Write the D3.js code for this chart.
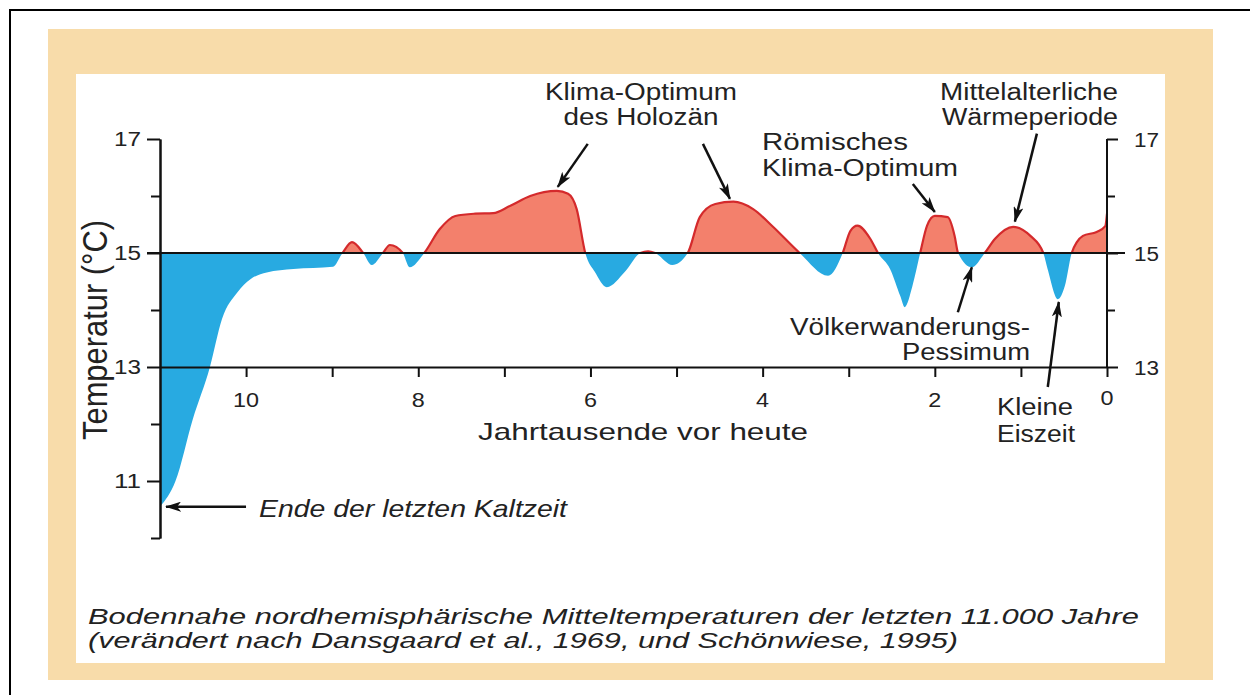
<!DOCTYPE html>
<html>
<head>
<meta charset="utf-8">
<script src="https://cdn.jsdelivr.net/npm/d3@7"></script>
<style>
  body { margin: 0; background: #fff; }
  text { font-family: "Liberation Sans", Arial, sans-serif; fill: #222; }
</style>
</head>
<body>
<svg id="chart" width="1250" height="695"></svg>
<script>
// Jahrtausende vor heute (kyr BP)
var ages = [11.0, 10.82, 10.62, 10.42, 10.28, 10.10, 9.95, 9.76, 9.45, 8.99, 8.88,
            8.77, 8.64, 8.54, 8.41, 8.33, 8.18, 8.10, 7.93, 7.75, 7.57,
            7.34, 7.13, 6.93, 6.70, 6.39, 6.26, 6.16, 6.06, 5.95, 5.81,
            5.60, 5.42, 5.33, 5.25, 5.05, 4.87, 4.73, 4.55, 4.34, 4.11,
            3.88, 3.57, 3.24, 3.07, 2.98, 2.90, 2.75, 2.66, 2.52, 2.40,
            2.35, 2.26, 2.17, 2.09, 2.00, 1.85, 1.77, 1.73, 1.57, 1.42,
            1.30, 1.09, 0.89, 0.74, 0.69, 0.57, 0.49, 0.41, 0.35, 0.28,
            0.12, 0.02, 0.0];
// Temperatur (°C)
var temps = [10.55, 11.0, 12.08, 13.0, 13.84, 14.31, 14.54, 14.66, 14.72, 14.76, 15.0,
             15.19, 15.0, 14.79, 15.0, 15.14, 15.0, 14.75, 15.0, 15.42, 15.65,
             15.69, 15.70, 15.83, 16.0, 16.09, 16.04, 15.77, 15.0, 14.67, 14.40,
             14.67, 15.0, 15.03, 15.0, 14.79, 15.0, 15.63, 15.86, 15.9, 15.77,
             15.46, 15.0, 14.6, 15.0, 15.39, 15.48, 15.25, 15.0, 14.72, 14.24,
             14.05, 14.42, 15.0, 15.48, 15.65, 15.63, 15.30, 15.0, 14.75, 15.0,
             15.25, 15.46, 15.30, 15.0, 14.72, 14.19, 14.42, 15.0, 15.19, 15.30,
             15.37, 15.47, 15.69];
var baseTemp = 15;
var yMajor = [17, 15, 13, 11];
var yMinor = [16, 14, 12, 10];
var yRight = [17, 15, 13];
var xTicks = [10, 9, 8, 7, 6, 5, 4, 3, 2, 1, 0];
var xLabels = [10, 8, 6, 4, 2, 0];

var blue = "#28aae1", salmon = "#f3806c", red = "#d42a2c", beige = "#f8dcaa";

var svg = d3.select("#chart");

// frame: page border, beige mat, white panel
svg.append("rect").attr("x", 10).attr("y", 10).attr("width", 1260).attr("height", 700)
  .attr("fill", "#fff").attr("stroke", "#000").attr("stroke-width", 2);
svg.append("rect").attr("x", 48).attr("y", 29).attr("width", 1165).attr("height", 651).attr("fill", beige);
svg.append("rect").attr("x", 76).attr("y", 74).attr("width", 1089).attr("height", 589).attr("fill", "#fff");

var x = d3.scaleLinear().domain([11, 0]).range([160, 1107]);
var y = d3.scaleLinear().domain([10, 17]).range([538, 139]);

var pts = ages.map(function (a, i) { return { age: a, temp: temps[i] }; });

var defs = svg.append("defs");
defs.append("clipPath").attr("id", "warm").append("rect")
  .attr("x", 0).attr("y", 0).attr("width", 1250).attr("height", y(baseTemp));
defs.append("clipPath").attr("id", "cold").append("rect")
  .attr("x", 0).attr("y", y(baseTemp)).attr("width", 1250).attr("height", 695);
defs.append("marker").attr("id", "head").attr("viewBox", "0 0 16 10")
  .attr("refX", 15).attr("refY", 5).attr("markerWidth", 16).attr("markerHeight", 10)
  .attr("markerUnits", "userSpaceOnUse").attr("orient", "auto")
  .append("path").attr("d", "M0,0 L16,5 L0,10 L4,5 Z").attr("fill", "#111");

var area = d3.area().x(function (d) { return x(d.age); })
  .y0(y(baseTemp)).y1(function (d) { return y(d.temp); }).curve(d3.curveMonotoneX);
var line = d3.line().x(function (d) { return x(d.age); })
  .y(function (d) { return y(d.temp); }).curve(d3.curveMonotoneX);

svg.append("path").datum(pts).attr("d", area).attr("fill", blue).attr("clip-path", "url(#cold)");
svg.append("path").datum(pts).attr("d", area).attr("fill", salmon).attr("clip-path", "url(#warm)");
svg.append("path").datum(pts).attr("d", line).attr("fill", "none")
  .attr("stroke", red).attr("stroke-width", 2.2).attr("clip-path", "url(#warm)");

// axes
function style(g) {
  g.selectAll("line, path").attr("stroke", "#111").attr("stroke-width", 2);
}
svg.append("g").attr("transform", "translate(160,0)")
  .call(d3.axisLeft(y).tickValues(yMajor).tickSize(13).tickSizeOuter(0).tickFormat(""))
  .call(style);
svg.append("g").attr("transform", "translate(160,0)")
  .call(d3.axisLeft(y).tickValues(yMinor).tickSize(9).tickSizeOuter(0).tickFormat(""))
  .call(style);
svg.append("g").attr("transform", "translate(1107,0)")
  .call(d3.axisRight(y).tickValues(yRight).tickSize(11).tickFormat(""))
  .call(function (g) { g.select(".domain").remove(); })
  .call(style);
svg.append("g").attr("transform", "translate(1107,0)")
  .call(d3.axisRight(y).tickValues([16, 14]).tickSize(8).tickFormat(""))
  .call(function (g) { g.select(".domain").remove(); })
  .call(style);
svg.append("line").attr("x1", 1107).attr("x2", 1107).attr("y1", y(17)).attr("y2", y(13))
  .attr("stroke", "#111").attr("stroke-width", 2);
svg.append("g").attr("transform", "translate(0," + y(13) + ")")
  .call(d3.axisBottom(x).tickValues(xTicks).tickSize(10).tickSizeOuter(0).tickFormat(""))
  .call(style);
// 15 °C reference line
svg.append("line").attr("x1", 147).attr("x2", 1125).attr("y1", y(baseTemp)).attr("y2", y(baseTemp))
  .attr("stroke", "#111").attr("stroke-width", 2);

// tick labels
function fit(sel, w) { return sel.attr("textLength", w).attr("lengthAdjust", "spacingAndGlyphs"); }
yMajor.forEach(function (v) {
  fit(svg.append("text").attr("x", 141).attr("y", y(v) + 7).attr("text-anchor", "end")
    .attr("font-size", 20).text(v), 27);
});
yRight.forEach(function (v) {
  fit(svg.append("text").attr("x", 1134).attr("y", y(v) + 8).attr("text-anchor", "start")
    .attr("font-size", 20).text(v), 25);
});
xLabels.forEach(function (v) {
  fit(svg.append("text").attr("x", x(v)).attr("y", v === 0 ? 405 : 407).attr("text-anchor", "middle")
    .attr("font-size", 20).text(v), String(v).length * 13);
});

// axis titles
fit(svg.append("text").attr("x", 643).attr("y", 440).attr("text-anchor", "middle")
  .attr("font-size", 24).text("Jahrtausende vor heute"), 330);
fit(svg.append("text").attr("transform", "translate(107,330) scale(1.25,1) rotate(-90)")
  .attr("text-anchor", "middle").attr("font-size", 28).text("Temperatur (°C)"), 220);

// annotation labels
var notes = [
  { lines: ["Klima-Optimum", "des Holozän"], x: 641, y: 100, gap: 25, anchor: "middle", w: [192, 155] },
  { lines: ["Römisches", "Klima-Optimum"], x: 762, y: 150, gap: 26, anchor: "start", w: [146, 196] },
  { lines: ["Mittelalterliche", "Wärmeperiode"], x: 1118, y: 100, gap: 25, anchor: "end", w: [178, 176] },
  { lines: ["Völkerwanderungs-", "Pessimum"], x: 1030, y: 335, gap: 25, anchor: "end", w: [240, 128] },
  { lines: ["Kleine", "Eiszeit"], x: 997, y: 415, gap: 27, anchor: "start", w: [76, 78] }
];
notes.forEach(function (n) {
  n.lines.forEach(function (s, i) {
    fit(svg.append("text").attr("x", n.x).attr("y", n.y + i * n.gap).attr("text-anchor", n.anchor)
      .attr("font-size", 23).text(s), n.w[i]);
  });
});
fit(svg.append("text").attr("x", 259).attr("y", 517).attr("font-size", 24)
  .attr("font-style", "italic").text("Ende der letzten Kaltzeit"), 308);

// arrows: tip at (age, temp), tail offset in px
var arrows = [
  { age: 6.38, temp: 16.16, dx: 30, dy: -43 },
  { age: 4.38, temp: 15.95, dx: -27, dy: -55 },
  { age: 2.0, temp: 15.72, dx: -22, dy: -28 },
  { age: 1.07, temp: 15.55, dx: 22, dy: -88 },
  { age: 1.57, temp: 14.75, dx: -14, dy: 45 },
  { age: 0.56, temp: 14.14, dx: -11, dy: 85 },
  { age: 10.93, temp: 10.55, dx: 80, dy: 0 }
];
arrows.forEach(function (a) {
  var tx = x(a.age), ty = y(a.temp);
  svg.append("line").attr("x1", tx + a.dx).attr("y1", ty + a.dy).attr("x2", tx).attr("y2", ty)
    .attr("stroke", "#111").attr("stroke-width", 2.5).attr("marker-end", "url(#head)");
});

// caption
var caption = ["Bodennahe nordhemisphärische Mitteltemperaturen der letzten 11.000 Jahre",
               "(verändert nach Dansgaard et al., 1969, und Schönwiese, 1995)"];
var capW = [1051, 870];
caption.forEach(function (s, i) {
  fit(svg.append("text").attr("x", 88).attr("y", 624 + i * 24).attr("font-size", 22)
    .attr("font-style", "italic").text(s), capW[i]);
});
</script>
</body>
</html>
